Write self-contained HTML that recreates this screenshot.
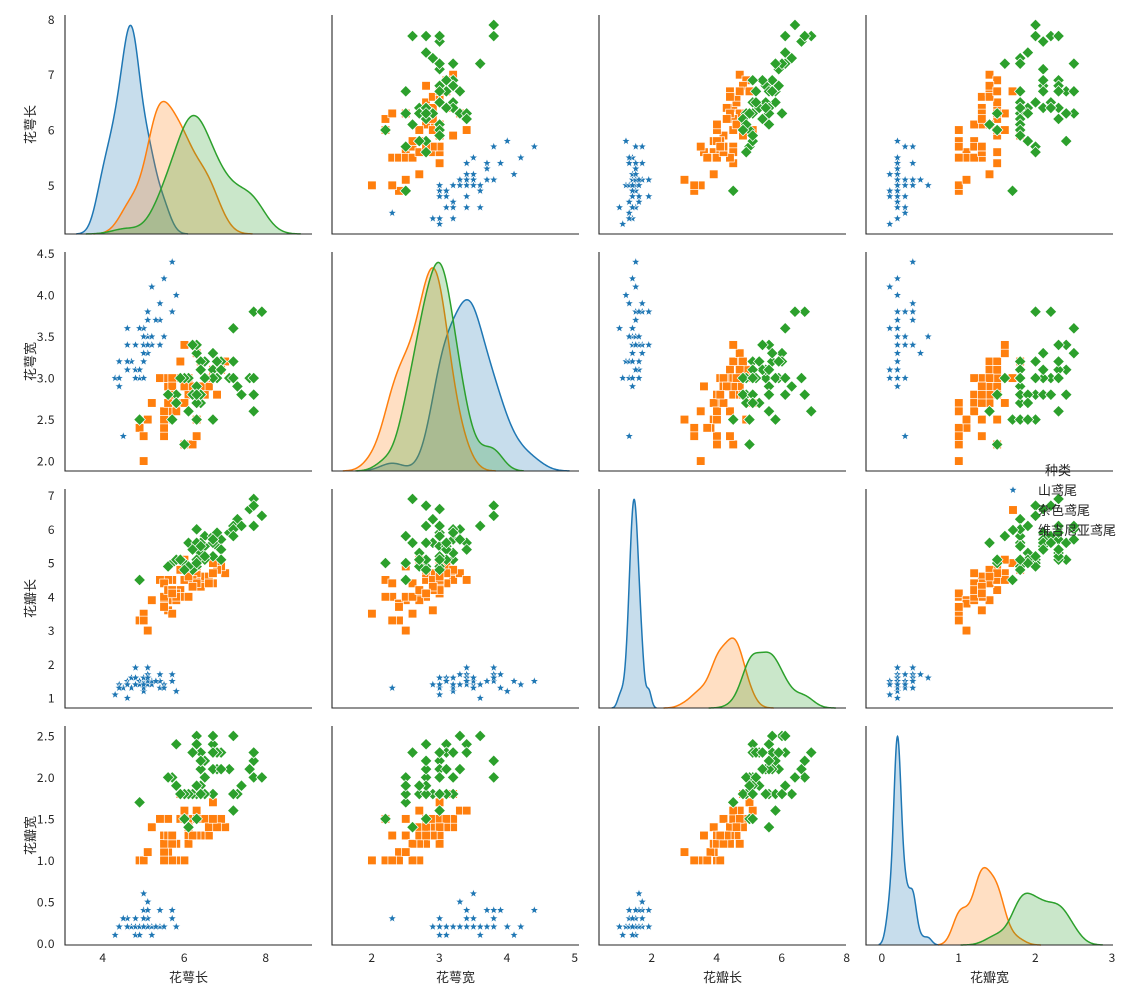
<!DOCTYPE html>
<html><head><meta charset="utf-8">
<style>
body{margin:0;background:#fff;}
svg{display:block;font-family:"Liberation Sans","Noto Sans CJK SC",sans-serif;}
.tick{font-size:12px;fill:#262626;font-family:"Noto Sans CJK SC","Liberation Sans",sans-serif;letter-spacing:0.5px;}
.lab{font-size:13px;fill:#262626;font-family:"Noto Sans CJK SC","Liberation Sans",sans-serif;}
</style></head>
<body>
<svg id="chart" width="1133" height="1000" viewBox="0 0 1133 1000" xmlns="http://www.w3.org/2000/svg"></svg>
<script>
const featureNames = ["花萼长","花萼宽","花瓣长","花瓣宽"];
const speciesNames = ["山鸢尾","杂色鸢尾","维吉尼亚鸢尾"];
const sepalLength = [5.1,4.9,4.7,4.6,5.0,5.4,4.6,5.0,4.4,4.9,5.4,4.8,4.8,4.3,5.8,5.7,5.4,5.1,5.7,5.1,5.4,5.1,4.6,5.1,4.8,5.0,5.0,5.2,5.2,4.7,4.8,5.4,5.2,5.5,4.9,5.0,5.5,4.9,4.4,5.1,5.0,4.5,4.4,5.0,5.1,4.8,5.1,4.6,5.3,5.0,
7.0,6.4,6.9,5.5,6.5,5.7,6.3,4.9,6.6,5.2,5.0,5.9,6.0,6.1,5.6,6.7,5.6,5.8,6.2,5.6,5.9,6.1,6.3,6.1,6.4,6.6,6.8,6.7,6.0,5.7,5.5,5.5,5.8,6.0,5.4,6.0,6.7,6.3,5.6,5.5,5.5,6.1,5.8,5.0,5.6,5.7,5.7,6.2,5.1,5.7,
6.3,5.8,7.1,6.3,6.5,7.6,4.9,7.3,6.7,7.2,6.5,6.4,6.8,5.7,5.8,6.4,6.5,7.7,7.7,6.0,6.9,5.6,7.7,6.3,6.7,7.2,6.2,6.1,6.4,7.2,7.4,7.9,6.4,6.3,6.1,7.7,6.3,6.4,6.0,6.9,6.7,6.9,5.8,6.8,6.7,6.7,6.3,6.5,6.2,5.9];
const sepalWidth = [3.5,3.0,3.2,3.1,3.6,3.9,3.4,3.4,2.9,3.1,3.7,3.4,3.0,3.0,4.0,4.4,3.9,3.5,3.8,3.8,3.4,3.7,3.6,3.3,3.4,3.0,3.4,3.5,3.4,3.2,3.1,3.4,4.1,4.2,3.1,3.2,3.5,3.6,3.0,3.4,3.5,2.3,3.2,3.5,3.8,3.0,3.8,3.2,3.7,3.3,
3.2,3.2,3.1,2.3,2.8,2.8,3.3,2.4,2.9,2.7,2.0,3.0,2.2,2.9,2.9,3.1,3.0,2.7,2.2,2.5,3.2,2.8,2.5,2.8,2.9,3.0,2.8,3.0,2.9,2.6,2.4,2.4,2.7,2.7,3.0,3.4,3.1,2.3,3.0,2.5,2.6,3.0,2.6,2.3,2.7,3.0,2.9,2.9,2.5,2.8,
3.3,2.7,3.0,2.9,3.0,3.0,2.5,2.9,2.5,3.6,3.2,2.7,3.0,2.5,2.8,3.2,3.0,3.8,2.6,2.2,3.2,2.8,2.8,2.7,3.3,3.2,2.8,3.0,2.8,3.0,2.8,3.8,2.8,2.8,2.6,3.0,3.4,3.1,3.0,3.1,3.1,3.1,2.7,3.2,3.3,3.0,2.5,3.0,3.4,3.0];
const petalLength = [1.4,1.4,1.3,1.5,1.4,1.7,1.4,1.5,1.4,1.5,1.5,1.6,1.4,1.1,1.2,1.5,1.3,1.4,1.7,1.5,1.7,1.5,1.0,1.7,1.9,1.6,1.6,1.5,1.4,1.6,1.6,1.5,1.5,1.4,1.5,1.2,1.3,1.4,1.3,1.5,1.3,1.3,1.3,1.6,1.9,1.4,1.6,1.4,1.5,1.4,
4.7,4.5,4.9,4.0,4.6,4.5,4.7,3.3,4.6,3.9,3.5,4.2,4.0,4.7,3.6,4.4,4.5,4.1,4.5,3.9,4.8,4.0,4.9,4.7,4.3,4.4,4.8,5.0,4.5,3.5,3.8,3.7,3.9,5.1,4.5,4.5,4.7,4.4,4.1,4.0,4.4,4.6,4.0,3.3,4.2,4.2,4.2,4.3,3.0,4.1,
6.0,5.1,5.9,5.6,5.8,6.6,4.5,6.3,5.8,6.1,5.1,5.3,5.5,5.0,5.1,5.3,5.5,6.7,6.9,5.0,5.7,4.9,6.7,4.9,5.7,6.0,4.8,4.9,5.6,5.8,6.1,6.4,5.6,5.1,5.6,6.1,5.6,5.5,4.8,5.4,5.6,5.1,5.1,5.9,5.7,5.2,5.0,5.2,5.4,5.1];
const petalWidth = [0.2,0.2,0.2,0.2,0.2,0.4,0.3,0.2,0.2,0.1,0.2,0.2,0.1,0.1,0.2,0.4,0.4,0.3,0.3,0.3,0.2,0.4,0.2,0.5,0.2,0.2,0.4,0.2,0.2,0.2,0.2,0.4,0.1,0.2,0.2,0.2,0.2,0.1,0.2,0.2,0.3,0.3,0.2,0.6,0.4,0.3,0.2,0.2,0.2,0.2,
1.4,1.5,1.5,1.3,1.5,1.3,1.6,1.0,1.3,1.4,1.0,1.5,1.0,1.4,1.3,1.4,1.5,1.0,1.5,1.1,1.8,1.3,1.5,1.2,1.3,1.4,1.4,1.7,1.5,1.0,1.1,1.0,1.2,1.6,1.5,1.6,1.5,1.3,1.3,1.3,1.2,1.4,1.2,1.0,1.3,1.2,1.3,1.3,1.1,1.3,
2.5,1.9,2.1,1.8,2.2,2.1,1.7,1.8,1.8,2.5,2.0,1.9,2.1,2.0,2.4,2.3,1.8,2.2,2.3,1.5,2.3,2.0,2.0,1.8,2.1,1.8,1.8,1.8,2.1,1.6,1.9,2.0,2.2,1.5,1.4,2.3,2.4,1.8,1.8,2.1,2.4,2.3,1.9,2.3,2.5,2.3,1.9,2.0,2.3,1.8];
const speciesIndex = sepalLength.map((_, i) => Math.floor(i / 50));
const tickLabels = [["4","6","8"],["2","3","4","5"],["2","4","6","8"],["0","1","2","3"]];
const yTickLabels = [["5","6","7","8"],["2.0","2.5","3.0","3.5","4.0","4.5"],["1","2","3","4","5","6","7"],["0.0","0.5","1.0","1.5","2.0","2.5"]];

const features = [sepalLength, sepalWidth, petalLength, petalWidth];
const colors = ["#1f77b4","#ff7f0e","#2ca02c"];
const colX0 = [65,332,599,866], rowY0 = [15,252,489,726], W = 247, H = 219;
const xLims = [[3.07,9.13],[1.41,5.06],[0.37,7.97],[-0.21,3.01]];
const yLims = [[4.12,8.08],[1.88,4.52],[0.705,7.195],[-0.02,2.62]];
const NS = "http://www.w3.org/2000/svg";
const svg = document.getElementById("chart");
function mk(tag, attrs, parent) { const e = document.createElementNS(NS, tag); for (const k in attrs) e.setAttribute(k, attrs[k]); (parent || svg).appendChild(e); return e; }
function xsL(lim, c, v) { return colX0[c] + (v - lim[0]) / (lim[1] - lim[0]) * W; }
function xs(c, v) { return xsL(xLims[c], c, v); }
function ys(r, v) { const l = yLims[r]; return rowY0[r] + H - (v - l[0]) / (l[1] - l[0]) * H; }

function marker(g, sp, cx, cy) {
  let e;
  if (sp === 0) {
    const pts = [];
    for (let k = 0; k < 10; k++) { const a = -Math.PI / 2 + k * Math.PI / 5; const rr = k % 2 ? 1.8 : 4.3; pts.push((cx + rr * Math.cos(a)).toFixed(2) + "," + (cy + rr * Math.sin(a)).toFixed(2)); }
    e = mk("polygon", {points: pts.join(" "), fill: colors[0], stroke: "#fff", "stroke-width": 0.5}, g);
    
  } else if (sp === 1) {
    e = mk("rect", {x: cx - 4.3, y: cy - 4.3, width: 8.6, height: 8.6, fill: colors[1], stroke: "#fff", "stroke-width": 0.7}, g);
    
  } else {
    const d = 5.8;
    e = mk("polygon", {points: `${cx},${cy-d} ${cx+d},${cy} ${cx},${cy+d} ${cx-d},${cy}`, fill: colors[2], stroke: "#fff", "stroke-width": 0.7}, g);
    
  }
  
}

function kde(vals) {
  const n = vals.length, mean = vals.reduce((a, b) => a + b, 0) / n;
  const sd = Math.sqrt(vals.reduce((a, b) => a + (b - mean) ** 2, 0) / (n - 1));
  const bw = sd * Math.pow(n, -0.2);
  const lo = Math.min(...vals) - 3 * bw, hi = Math.max(...vals) + 3 * bw;
  const pts = [];
  for (let i = 0; i < 200; i++) {
    const x = lo + (hi - lo) * i / 199; let s = 0;
    for (const v of vals) s += Math.exp(-0.5 * ((x - v) / bw) ** 2);
    pts.push([x, s / (n * bw * Math.sqrt(2 * Math.PI)) / 3]);
  }
  return pts;
}

for (let r = 0; r < 4; r++) for (let c = 0; c < 4; c++) {
  const g = mk("g", {});
  
  
  const x0 = colX0[c], y0 = rowY0[r];
  if (r === c) {
    const curves = [0, 1, 2].map(sp => kde(features[c].filter((_, i) => speciesIndex[i] === sp)));
    const ymax = Math.max(...curves.map(cv => Math.max(...cv.map(p => p[1])))) * 1.05;
    let lim = xLims[c];
    if (c === 0) {
      const lo = Math.min(...curves.map(cv => cv[0][0])), hi = Math.max(...curves.map(cv => cv[cv.length - 1][0]));
      const m = (hi - lo) * 0.05; lim = [lo - m, hi + m];
    }
    const px = v => xsL(lim, c, v);
    curves.forEach((cv, sp) => {
      const py = v => y0 + H - v / ymax * H;
      let d = cv.map((p, i) => (i ? "L" : "M") + px(p[0]).toFixed(2) + "," + py(p[1]).toFixed(2)).join(" ");
      const fill = mk("path", {d: d + ` L${px(cv[cv.length-1][0]).toFixed(2)},${y0+H} L${px(cv[0][0]).toFixed(2)},${y0+H} Z`, fill: colors[sp], "fill-opacity": 0.25, stroke: "none"}, g);
      
      
      const line = mk("path", {d: d, fill: "none", stroke: colors[sp], "stroke-width": 1.5}, g);
      
      
    });
  } else {
    for (let i = 0; i < 150; i++) marker(g, speciesIndex[i], xs(c, features[c][i]), ys(r, features[r][i]));
  }
  const ax = mk("path", {d: `M${x0},${y0} L${x0},${y0+H} L${x0+W},${y0+H}`, fill: "none", stroke: "#262626", "stroke-width": 1.1}, g);
  
  
}

for (let r = 0; r < 4; r++) {
  yTickLabels[r].forEach(t => {
    const e = mk("text", {x: 55, y: ys(r, parseFloat(t)) + 4.5, "text-anchor": "end", class: "tick"});
    e.textContent = t;
    
    
  });
  const yl = mk("text", {x: 0, y: 0, transform: `translate(35,${rowY0[r] + H / 2}) rotate(-90)`, "text-anchor": "middle", class: "lab"});
  yl.textContent = featureNames[r];
  
  
}
for (let c = 0; c < 4; c++) {
  tickLabels[c].forEach(t => {
    const e = mk("text", {x: xs(c, parseFloat(t)), y: 962, "text-anchor": "middle", class: "tick"});
    e.textContent = t;
    
    
  });
  const xl = mk("text", {x: colX0[c] + W / 2, y: 982, "text-anchor": "middle", class: "lab"});
  xl.textContent = featureNames[c];
  
  
}

const lg = mk("g", {});


const lt = mk("text", {x: 1058, y: 475, "text-anchor": "middle", class: "lab"}, lg);
lt.textContent = "种类";


speciesNames.forEach((name, sp) => {
  const yy = 490 + sp * 20;
  marker(lg, sp, 1013, yy);
  const t = mk("text", {x: 1038, y: yy + 5, class: "lab"}, lg);
  t.textContent = name;
  
  
});
</script>
</body></html>
